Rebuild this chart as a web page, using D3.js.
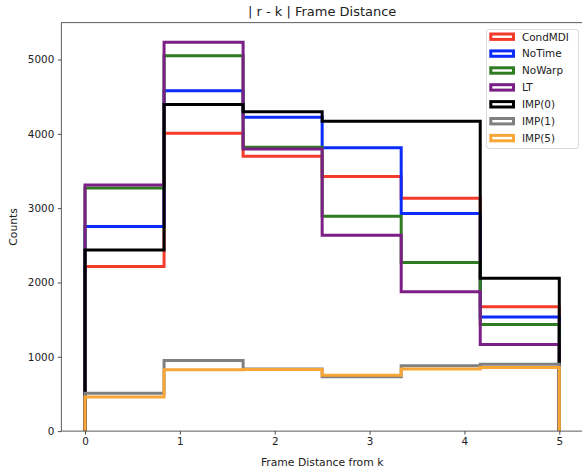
<!DOCTYPE html>
<html>
<head>
<meta charset="utf-8">
<script src="https://cdn.jsdelivr.net/npm/d3@7"></script>
<style>
  body { margin: 0; background: #fff; }
  svg { font-family: "DejaVu Sans", sans-serif; }
</style>
</head>
<body>
<div id="chart"></div>
<script>
// bin edges of the histogram (6 bins from 0 to 5)
const binEdges = [0, 5 / 6, 10 / 6, 2.5, 20 / 6, 25 / 6, 5];

const seriesNames = ["CondMDI", "NoTime", "NoWarp", "LT", "IMP(0)", "IMP(1)", "IMP(5)"];
const seriesColors = ["#f43a29", "#0b2cfb", "#2e7b22", "#7b1f86", "#000000", "#808080", "#f8a737"];

const condMDI = [2215, 4007, 3698, 3425, 3133, 1672];
const noTime  = [2753, 4581, 4224, 3814, 2927, 1534];
const noWarp  = [3272, 5051, 3819, 2891, 2269, 1435];
const lt      = [3312, 5234, 3795, 2636, 1874, 1167];
const imp0    = [2438, 4396, 4298, 4168, 4168, 2058];
const imp1    = [508, 951, 834, 733, 879, 898];
const imp5    = [458, 825, 828, 752, 835, 857];

const seriesValues = [condMDI, noTime, noWarp, lt, imp0, imp1, imp5];

const xTicks = [0, 1, 2, 3, 4, 5];
const yTicks = [0, 1000, 2000, 3000, 4000, 5000];

const W = 582, H = 470;
const margin = { top: 22.7, right: -1, bottom: 38.9, left: 61.3 };
const innerW = W - margin.left - margin.right;
const innerH = H - margin.top - margin.bottom;

const x = d3.scaleLinear().domain([-0.25, 5.25]).range([0, innerW]);
const yMax = d3.max(seriesValues, s => d3.max(s)) * 1.05;
const y = d3.scaleLinear().domain([0, yMax]).range([innerH, 0]);

const svg = d3.select("#chart").append("svg")
    .attr("width", W).attr("height", H);

svg.append("defs").append("clipPath").attr("id", "clip")
  .append("rect").attr("x", 0).attr("y", 0).attr("width", innerW).attr("height", innerH);

const frame = svg.append("g").attr("transform", "translate(" + margin.left + "," + margin.top + ")");

// step outline for each series
function stepPoints(vals) {
  const pts = [[binEdges[0], 0]];
  vals.forEach((v, i) => {
    pts.push([binEdges[i], v]);
    pts.push([binEdges[i + 1], v]);
  });
  pts.push([binEdges[binEdges.length - 1], 0]);
  return pts;
}

const line = d3.line().x(d => x(d[0])).y(d => y(d[1]));

const plot = frame.append("g").attr("clip-path", "url(#clip)");
seriesValues.forEach((vals, i) => {
  plot.append("path")
    .datum(stepPoints(vals))
    .attr("d", line)
    .attr("fill", "none")
    .attr("stroke", seriesColors[i])
    .attr("stroke-width", 3)
    .attr("stroke-linejoin", "miter");
});

// axes
const xAxis = d3.axisBottom(x).tickValues(xTicks).tickFormat(d3.format("d")).tickSize(3.5).tickPadding(3.5);
const yAxis = d3.axisLeft(y).tickValues(yTicks).tickFormat(d3.format("d")).tickSize(3.5).tickPadding(3.5);

const gx = frame.append("g").attr("transform", "translate(0," + innerH + ")").call(xAxis);
const gy = frame.append("g").call(yAxis);
[gx, gy].forEach(g => {
  g.select(".domain").remove();
  g.selectAll("line").attr("stroke", "#222").attr("stroke-width", 0.8);
  g.selectAll("text").attr("fill", "#222").style("font-size", "10.4px").style("font-family", "DejaVu Sans");
});

// spines
frame.append("rect")
  .attr("x", 0).attr("y", 0).attr("width", innerW).attr("height", innerH)
  .attr("fill", "none").attr("stroke", "#333").attr("stroke-width", 0.8);

// title and labels
svg.append("text")
  .attr("x", margin.left + innerW / 2).attr("y", 16)
  .attr("text-anchor", "middle").style("font-size", "13px").attr("fill", "#222")
  .text("| r - k | Frame Distance");

svg.append("text")
  .attr("x", margin.left + innerW / 2).attr("y", 466)
  .attr("text-anchor", "middle").style("font-size", "10.8px").attr("fill", "#222")
  .text("Frame Distance from k");

svg.append("text")
  .attr("transform", "translate(17," + (margin.top + innerH / 2) + ") rotate(-90)")
  .attr("text-anchor", "middle").style("font-size", "10.8px").attr("fill", "#222")
  .text("Counts");

// legend
const legend = svg.append("g").attr("transform", "translate(486.5,29.5)");
legend.append("rect")
  .attr("width", 92).attr("height", 119).attr("rx", 2.5)
  .attr("fill", "#fff").attr("fill-opacity", 0.8)
  .attr("stroke", "#d0d0d0").attr("stroke-width", 0.8);

seriesNames.forEach((name, i) => {
  const row = legend.append("g").attr("transform", "translate(0," + (7.2 + i * 16.9) + ")");
  row.append("rect")
    .attr("x", 4.3).attr("y", -2.7).attr("width", 22.7).attr("height", 5.4)
    .attr("fill", "none").attr("stroke", seriesColors[i]).attr("stroke-width", 3);
  row.append("text")
    .attr("x", 35.5).attr("y", 3.8)
    .style("font-size", "10.4px").attr("fill", "#222")
    .text(name);
});
</script>
</body>
</html>
